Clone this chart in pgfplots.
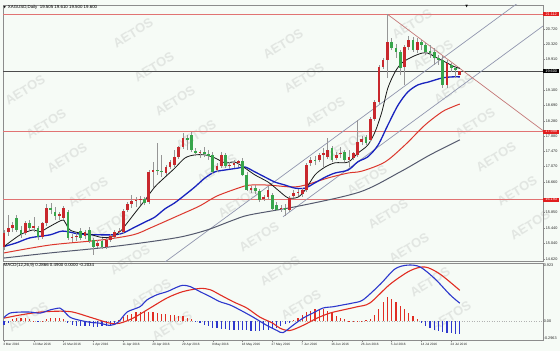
\documentclass[border=0pt]{standalone}
\usepackage{fontspec}
\setmainfont{Liberation Sans}
\newfontfamily\dejavu{DejaVu Sans}
\usepackage{pgfplots}
\pgfplotsset{compat=1.18}
\usepackage{pgfplotstable}

\definecolor{bg}{RGB}{246,251,246}
\definecolor{wm}{RGB}{226,230,226}
\definecolor{candleup}{RGB}{200,40,45}
\definecolor{candledn}{RGB}{55,165,75}
\definecolor{wick}{RGB}{150,150,150}
\definecolor{hline}{RGB}{225,115,115}
\definecolor{boxred}{RGB}{225,30,30}
\definecolor{chan}{RGB}{145,150,175}
\definecolor{maBlack}{RGB}{25,25,25}
\definecolor{maBlue}{RGB}{25,35,190}
\definecolor{maRed}{RGB}{220,55,45}
\definecolor{maGray}{RGB}{85,90,110}
\definecolor{macdBlue}{RGB}{45,55,205}
\definecolor{macdRed}{RGB}{225,45,35}
\definecolor{frame}{RGB}{140,140,140}

\pgfplotstableread{
i o h l c
0 14.94 15.39 14.86 15.31
1 15.34 15.79 15.23 15.44
2 15.44 15.60 15.34 15.52
3 15.71 15.79 15.34 15.39
4 15.39 15.49 15.18 15.28
5 15.31 15.63 15.26 15.57
6 15.57 15.65 15.39 15.44
7 15.44 15.73 15.34 15.49
8 15.44 15.49 15.12 15.20
9 15.20 15.60 15.15 15.57
10 15.57 16.08 15.49 15.97
11 15.97 16.10 15.81 15.92
12 15.87 16.00 15.65 15.76
13 15.76 15.87 15.65 15.81
14 15.71 16.03 15.65 15.97
15 15.87 15.92 15.12 15.18
16 15.18 15.28 15.07 15.19
17 15.20 15.31 15.10 15.23
18 15.36 15.44 15.12 15.18
19 15.23 15.39 15.15 15.34
20 15.39 15.47 15.04 15.10
21 15.12 15.18 14.73 14.94
22 14.96 15.12 14.91 15.04
23 15.10 15.18 14.89 14.94
24 14.94 15.18 14.89 15.12
25 15.12 15.28 15.07 15.23
26 15.20 15.39 15.15 15.34
27 15.34 15.44 15.26 15.36
28 15.34 15.95 15.28 15.89
29 15.92 16.13 15.87 16.08
30 16.08 16.32 15.97 16.16
31 16.16 16.26 16.00 16.18
32 16.18 16.29 16.05 16.21
33 16.21 16.26 16.05 16.10
34 16.13 16.98 16.08 16.93
35 16.93 17.19 16.50 16.98
36 16.98 17.70 16.85 16.95
37 16.95 17.38 16.79 16.93
38 16.90 17.11 16.85 17.06
39 17.06 17.25 17.01 17.19
40 17.11 17.51 17.06 17.32
41 17.32 17.62 17.27 17.59
42 17.59 17.96 17.54 17.83
43 17.83 17.91 17.51 17.78
44 17.91 17.99 17.46 17.51
45 17.48 17.56 17.35 17.43
46 17.43 17.51 17.30 17.46
47 17.46 17.59 17.32 17.40
48 17.40 17.51 17.25 17.35
49 17.38 17.46 16.87 16.93
50 16.98 17.17 16.93 17.09
51 17.09 17.46 17.03 17.38
52 17.38 17.43 17.03 17.09
53 17.09 17.19 17.01 17.11
54 17.11 17.25 17.03 17.17
55 17.17 17.25 17.06 17.22
56 17.22 17.30 16.82 16.85
57 16.85 16.93 16.42 16.45
58 16.45 16.56 16.37 16.50
59 16.50 16.58 16.34 16.42
60 16.42 16.48 16.13 16.18
61 16.21 16.32 16.16 16.26
62 16.26 16.56 16.21 16.45
63 16.32 16.37 15.89 15.95
64 16.05 16.13 15.89 15.92
65 15.95 16.05 15.87 15.97
66 15.97 16.08 15.76 15.92
67 15.92 16.29 15.87 16.24
68 16.29 16.45 16.24 16.37
69 16.37 16.48 16.29 16.40
70 16.34 16.50 16.26 16.45
71 16.45 17.17 16.40 17.11
72 17.17 17.32 17.09 17.25
73 17.25 17.35 17.11 17.22
74 17.25 17.43 17.19 17.38
75 17.38 17.56 17.06 17.43
76 17.32 17.83 17.27 17.51
77 17.56 17.62 17.19 17.25
78 17.30 17.46 17.25 17.38
79 17.40 17.59 17.30 17.43
80 17.46 17.51 17.19 17.25
81 17.25 17.51 17.06 17.32
82 17.30 17.46 17.25 17.43
83 17.38 18.31 17.32 17.72
84 17.72 17.88 17.64 17.80
85 17.86 17.91 17.64 17.70
86 17.78 18.39 17.72 18.33
87 18.33 18.84 18.28 18.78
88 18.78 19.77 18.73 19.71
89 19.71 19.95 19.66 19.90
90 19.90 21.112 19.42 20.375
91 20.38 20.48 20.16 20.22
92 20.22 20.32 19.95 20.11
93 20.11 20.16 19.50 19.69
94 19.71 20.30 19.24 20.24
95 20.24 20.53 20.16 20.43
96 20.43 20.51 20.11 20.16
97 20.16 20.48 20.08 20.38
98 20.38 20.43 20.16 20.30
99 20.30 20.35 20.03 20.11
100 20.14 20.30 19.95 20.08
101 20.11 20.22 19.77 19.95
102 19.95 20.03 19.77 19.90
103 19.90 20.00 19.15 19.24
104 19.24 19.90 19.15 19.82
105 19.77 19.82 19.58 19.69
106 19.69 19.74 19.42 19.63
107 19.505 19.610 19.500 19.600
}\candles

\pgfplotstableread{
i v
0 -0.06
1 -0.03
2 0.03
3 0.05
4 0.05
5 0.05
6 0.04
7 0.01
8 -0.01
9 0.01
10 0.03
11 0.05
12 0.05
13 0.05
14 0.03
15 -0.03
16 -0.06
17 -0.07
18 -0.08
19 -0.08
20 -0.08
21 -0.09
22 -0.09
23 -0.08
24 -0.08
25 -0.06
26 -0.03
27 0.02
28 0.07
29 0.10
30 0.12
31 0.14
32 0.15
33 0.15
34 0.15
35 0.14
36 0.13
37 0.12
38 0.11
39 0.10
40 0.10
41 0.09
42 0.08
43 0.06
44 0.03
45 -0.01
46 -0.03
47 -0.06
48 -0.08
49 -0.10
50 -0.11
51 -0.12
52 -0.12
53 -0.13
54 -0.13
55 -0.13
56 -0.14
57 -0.14
58 -0.15
59 -0.15
60 -0.15
61 -0.14
62 -0.13
63 -0.12
64 -0.11
65 -0.08
66 -0.05
67 -0.02
68 0.02
69 0.06
70 0.10
71 0.14
72 0.17
73 0.19
74 0.20
75 0.19
76 0.16
77 0.13
78 0.09
79 0.06
80 0.03
81 0.01
82 0.01
83 0.01
84 0.01
85 0.02
86 0.04
87 0.10
88 0.19
89 0.30
90 0.39
91 0.36
92 0.31
93 0.25
94 0.19
95 0.13
96 0.08
97 0.03
98 -0.03
99 -0.08
100 -0.11
101 -0.13
102 -0.15
103 -0.17
104 -0.18
105 -0.19
106 -0.20
107 -0.2034
}\hist

\begin{document}
\begin{tikzpicture}
\fill[bg] (0,0) rectangle (560bp,-351bp);
\useasboundingbox (0,0) rectangle (560bp,-351bp);
% watermark
\foreach \wx/\wy in {25/90,46/124,67/158,88/192,109/226,130/260,151/294,172/326,
  133/33,154/67,175/101,196/135,217/169,238/203,259/237,280/271,301/305,
  283/44,304/78,325/112,346/146,367/180,388/214,409/248,430/282,451/316,
  412/24,433/55,454/89,475/123,496/157,517/191,530/225,28/317}{
    \node[rotate=32, text=wm, inner sep=0pt, font=\bfseries\fontsize{13}{13}\selectfont]
      at (\wx bp, -\wy bp) {AETOS};
}

% ---------------- main price panel ----------------
\begin{axis}[
  at={(3bp,-5bp)}, anchor=north west, scale only axis,
  width=540bp, height=256bp,
  xmin=-0.23, xmax=126.53, ymin=14.566, ymax=21.357,
  axis line style={frame, line width=0.9bp},
  xtick=\empty,
  ytick={14.62,15.04,15.44,15.85,16.66,17.07,17.47,17.88,18.28,18.69,19.10,19.91,20.32,20.72},
  yticklabels={14.620,15.040,15.440,15.850,16.660,17.070,17.470,17.880,18.280,18.690,19.100,19.910,20.320,20.720},
  ytick pos=right, yticklabel pos=right,
  tick align=outside, major tick length=2bp,
  tick style={frame, line width=0.4bp},
  yticklabel style={font=\fontsize{3.8}{4}\selectfont, anchor=west, inner sep=0.6bp, text=black!85},
  clip mode=individual,
]
% horizontal levels
\addplot[hline, line width=0.8bp, forget plot] coordinates {(-0.23,21.112) (126.53,21.112)};
\addplot[hline, line width=0.8bp, forget plot] coordinates {(-0.23,17.999) (126.53,17.999)};
\addplot[hline, line width=0.8bp, forget plot] coordinates {(-0.23,16.193) (126.53,16.193)};
\addplot[black!70, line width=0.6bp, forget plot] coordinates {(-0.23,19.600) (126.53,19.600)};
% trend lines
\addplot[chan, line width=0.7bp, forget plot] coordinates {(36,14.39) (126.53,21.90)};
\addplot[chan, line width=0.7bp, forget plot] coordinates {(65.5,15.74) (126.53,20.80)};
\addplot[hline!70!gray, line width=0.7bp, forget plot] coordinates {(90,21.112) (126.53,18.025)};

% moving averages
\addplot[maGray, line width=1bp, smooth, forget plot] coordinates {
(0,14.645) (10.8,14.78) (22.5,14.91) (31.9,15.04) (41.3,15.20) (47.7,15.39) (53.8,15.65) (57.7,15.79) (69.5,16.03) (83.6,16.40) (93,16.93) (100,17.38) (107,17.78)};
\addplot[maRed, line width=1bp, smooth, forget plot] coordinates {
(0,14.78) (10.8,14.99) (22.5,15.12) (30.3,15.26) (34.5,15.45) (41.5,15.80) (46,16.03) (50,16.29) (55.5,16.52) (57.7,16.58) (62,16.58) (67.6,16.53) (70.7,16.58) (76.1,16.77) (80.8,16.90) (84,16.95) (89.4,17.19) (94.1,17.64) (98.8,18.17) (102.8,18.52) (105.2,18.65) (107,18.73)};
\addplot[maBlue, line width=1.3bp, smooth, forget plot] coordinates {
(0,14.95) (3,15.05) (6.1,15.18) (10.8,15.26) (13.8,15.36) (17.8,15.28) (22.5,15.26) (27.2,15.28) (30.8,15.47) (33.1,15.60) (35.4,15.73) (37.8,15.95) (40.1,16.11) (42.5,16.32) (44.8,16.53) (47.2,16.77) (49.5,16.93) (51.9,16.98) (54.9,17.03) (56.6,17.06) (58.9,16.93) (61.3,16.79) (63.6,16.66) (66,16.58) (68.3,16.50) (70.7,16.50) (73,16.64) (75.4,16.79) (77.7,16.90) (80.8,16.98) (83.1,17.20) (85.4,17.33) (87.8,17.64) (90.1,18.17) (92.5,18.70) (94.8,19.05) (97.2,19.24) (99.5,19.31) (102.8,19.42) (105.2,19.45) (107,19.45)};
\addplot[maBlack, line width=0.8bp, smooth, forget plot] coordinates {
(0,14.95) (3.8,15.26) (6.8,15.39) (8.5,15.34) (10.1,15.44) (13.6,15.65) (14.3,15.60) (15.5,15.39) (17.8,15.31) (20.7,15.26) (22.5,15.20) (24.9,15.20) (27.2,15.34) (28.4,15.50) (30.8,15.85) (33.1,16.18) (35.4,16.53) (37.8,16.79) (40.1,17.03) (42.5,17.30) (44.8,17.38) (47.2,17.38) (49.5,17.30) (51.9,17.17) (54.2,17.19) (56.6,17.03) (58.9,16.85) (62,16.66) (64.3,16.45) (66.7,16.24) (69,16.26) (70.7,16.45) (73,16.85) (75.4,17.06) (77.7,17.17) (80.8,17.19) (83.1,17.43) (85.4,17.64) (87.1,17.99) (88.7,18.52) (90.1,19.15) (91.8,19.58) (93.4,19.82) (95.8,19.98) (98.1,20.08) (99.5,20.08) (101.2,19.98) (103.5,19.85) (105.9,19.71) (107,19.68)};

% candle wicks
\addplot[draw=none, mark=none, forget plot,
  error bars/.cd, y dir=plus, y explicit, error mark=none,
  error bar style={draw=wick, line width=0.6bp}]
  table[x=i, y=l, y error expr=\thisrow{h}-\thisrow{l}] {\candles};
% bullish bodies (red)
\addplot[draw=none, mark=none, forget plot,
  restrict expr to domain={\thisrow{c}-\thisrow{o}}{0:100},
  error bars/.cd, y dir=plus, y explicit, error mark=none,
  error bar style={draw=candleup, line width=2.7bp}]
  table[x=i, y=o, y error expr=\thisrow{c}-\thisrow{o}] {\candles};
% bearish bodies (green)
\addplot[draw=none, mark=none, forget plot,
  restrict expr to domain={\thisrow{o}-\thisrow{c}}{0.0001:100},
  error bars/.cd, y dir=plus, y explicit, error mark=none,
  error bar style={draw=candledn, line width=2.7bp}]
  table[x=i, y=c, y error expr=\thisrow{o}-\thisrow{c}] {\candles};

% header
\node[anchor=north west, inner sep=0.5bp, font=\fontsize{4.4}{5}\selectfont] at (rel axis cs:0,1)
  {{\dejavu\fontsize{3}{3}\selectfont ▼}\, XAGUSD,Daily\ \ 19.505 19.610 19.500 19.600};
\node[anchor=north, inner sep=0pt, font=\dejavu\fontsize{3.5}{4}\selectfont] at (axis cs:108.6,21.357) {▼};
% price boxes
\node[fill=boxred, text=white, anchor=west, inner sep=0.6bp, minimum width=16bp, font=\fontsize{3.8}{4}\selectfont] at (axis cs:126.53,21.112) {21.112};
\node[fill=boxred, text=white, anchor=west, inner sep=0.6bp, minimum width=16bp, font=\fontsize{3.8}{4}\selectfont] at (axis cs:126.53,17.999) {17.999};
\node[fill=boxred, text=white, anchor=west, inner sep=0.6bp, minimum width=16bp, font=\fontsize{3.8}{4}\selectfont] at (axis cs:126.53,16.193) {16.193};
\node[fill=black, text=white, anchor=west, inner sep=0.6bp, minimum width=16bp, font=\fontsize{3.8}{4}\selectfont] at (axis cs:126.53,19.600) {19.600};
\end{axis}

% ---------------- MACD panel ----------------
\begin{axis}[
  at={(3bp,-263bp)}, anchor=north west, scale only axis,
  width=540bp, height=77bp,
  xmin=-0.23, xmax=126.53, ymin=-0.2963, ymax=0.923,
  axis line style={frame, line width=0.9bp},
  ytick=\empty,
  xtick={0,7,...,105},
  xticklabels={3 Mar 2016,13 Mar 2016,22 Mar 2016,1 Apr 2016,11 Apr 2016,20 Apr 2016,29 Apr 2016,9 May 2016,18 May 2016,27 May 2016,7 Jun 2016,16 Jun 2016,26 Jun 2016,5 Jul 2016,14 Jul 2016,24 Jul 2016},
  xtick pos=bottom,
  tick align=outside, major tick length=2bp,
  tick style={frame, line width=0.4bp},
  xticklabel style={font=\fontsize{3.2}{4}\selectfont, anchor=north west, inner sep=0.6bp, xshift=-1.5bp, text=black!85},
  clip mode=individual,
]
\addplot[gray!60, dotted, line width=0.5bp, forget plot] coordinates {(-0.23,0) (126.53,0)};
\addplot[ycomb, macdRed, line width=1.2bp, restrict y to domain=0:1, forget plot] table[x=i, y=v] {\hist};
\addplot[ycomb, macdBlue, line width=1.2bp, restrict y to domain=-1:0, forget plot] table[x=i, y=v] {\hist};
\addplot[macdRed, line width=1.1bp, smooth, forget plot] coordinates {
(0,0.05) (3.8,0.10) (8.5,0.146) (13.1,0.16) (16.2,0.146) (20.2,0.065) (24.9,-0.03) (27.2,-0.03) (30.3,0.05) (34.3,0.21) (38.3,0.37) (42,0.47) (46,0.52) (48.4,0.50) (50.7,0.42) (53.8,0.31) (57,0.21) (60.1,0.065) (63.1,-0.03) (64.8,-0.11) (67.1,-0.146) (70.2,-0.065) (73.5,0.05) (76.5,0.13) (79.6,0.18) (82.9,0.23) (85.9,0.29) (90.6,0.585) (95.3,0.80) (98.8,0.86) (102.3,0.75) (107,0.49)};
\addplot[macdBlue, line width=1.1bp, smooth, forget plot] coordinates {
(0,0.06) (1.4,0.13) (3.8,0.146) (6.1,0.146) (8.5,0.13) (10.8,0.18) (13.1,0.21) (13.8,0.18) (15.5,0.065) (17.8,0.016) (20.2,-0.016) (22.5,-0.03) (24.9,-0.065) (26.8,-0.016) (28.9,0.146) (31.9,0.23) (33.6,0.34) (35.9,0.42) (38.3,0.47) (40.6,0.54) (42,0.57) (43.7,0.55) (46,0.47) (48.4,0.39) (50.7,0.31) (53,0.26) (55.4,0.18) (58.5,0.065) (61.7,-0.065) (64.1,-0.146) (65.5,-0.18) (67.8,-0.065) (70.2,0.05) (72.5,0.13) (74.9,0.21) (77.2,0.23) (79.6,0.26) (81.9,0.29) (84.3,0.34) (88.3,0.585) (91.8,0.83) (94.8,0.89) (97.7,0.86) (101.2,0.67) (104.7,0.42) (107,0.2866)};
\node[anchor=north west, inner sep=0.5bp, font=\fontsize{4.4}{5}\selectfont] at (rel axis cs:0,1)
  {MACD(12,26,9) 0.2866 0.4900 0.0000 -0.2034};
\node[anchor=north west, inner sep=0.6bp, font=\fontsize{3.8}{4}\selectfont, text=black!85] at (rel axis cs:1,1) {0.923};
\node[anchor=west, inner sep=0.6bp, font=\fontsize{3.8}{4}\selectfont, text=black!85] at (axis cs:126.53,0) {0.00};
\node[anchor=south west, inner sep=0.6bp, font=\fontsize{3.8}{4}\selectfont, text=black!85] at (rel axis cs:1,0) {-0.2963};
\end{axis}
\end{tikzpicture}
\end{document}
